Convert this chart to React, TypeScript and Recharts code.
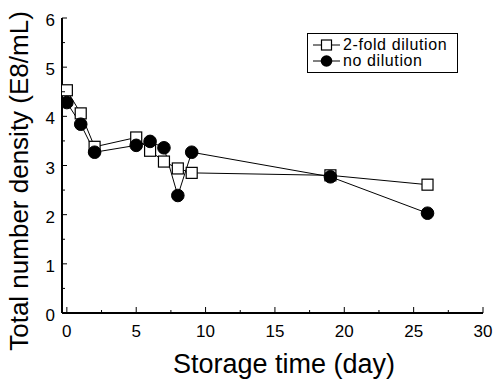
import { LineChart, Line, XAxis, YAxis, Legend, Label } from "recharts";

const days = [0, 1, 2, 5, 6, 7, 8, 9, 19, 26];
const twoFold = [4.53, 4.06, 3.38, 3.57, 3.3, 3.08, 2.94, 2.85, 2.8, 2.61];
const noDilution = [4.28, 3.84, 3.27, 3.41, 3.49, 3.36, 2.39, 3.27, 2.77, 2.03];
const seriesNames = ["2-fold dilution", "no dilution"];

const xTicks = [0, 2.5, 5, 7.5, 10, 12.5, 15, 17.5, 20, 22.5, 25, 27.5, 30];
const yTicks = [0, 0.5, 1, 1.5, 2, 2.5, 3, 3.5, 4, 4.5, 5, 5.5, 6];

const data = days.map((day, i) => ({ day, twoFold: twoFold[i], noDilution: noDilution[i] }));

const FONT = '"Liberation Sans", Arial, sans-serif';
const xDomain: [number, number] = [-0.35, 30];
const yDomain: [number, number] = [0, 6];

const isMajorX = (v: number) => v % 5 === 0;
const isMajorY = (v: number) => Number.isInteger(v);

function BottomTick(props: any) {
  const { x, y, payload } = props;
  const major = isMajorX(payload.value);
  return (
    <g>
      <line x1={x} y1={y} x2={x} y2={y - (major ? 6 : 3)} stroke="#000" />
      {major && (
        <text x={x} y={y + 24} textAnchor="middle" fontSize={17} fontFamily={FONT} fill="#000">
          {payload.value}
        </text>
      )}
    </g>
  );
}

function TopTick(props: any) {
  const { x, y, payload } = props;
  const major = isMajorX(payload.value);
  return <line x1={x} y1={y} x2={x} y2={y + (major ? 6 : 3)} stroke="#000" />;
}

function LeftTick(props: any) {
  const { x, y, payload } = props;
  const major = isMajorY(payload.value);
  return (
    <g>
      <line x1={x} y1={y} x2={x + (major ? 5 : 3)} y2={y} stroke="#000" />
      {major && (
        <text x={x - 7} y={y + 8} textAnchor="end" fontSize={17} fontFamily={FONT} fill="#000">
          {payload.value}
        </text>
      )}
    </g>
  );
}

function RightTick(props: any) {
  const { x, y, payload } = props;
  const major = isMajorY(payload.value);
  return <line x1={x} y1={y} x2={x - (major ? 5 : 3)} y2={y} stroke="#000" />;
}

function SquareDot(props: any) {
  const { cx, cy, index } = props;
  if (cx == null || cy == null) return null;
  return <rect key={`sq-${index}`} x={cx - 5.5} y={cy - 5.5} width={11} height={11} fill="#fff" stroke="#000" strokeWidth={1.2} />;
}

function CircleDot(props: any) {
  const { cx, cy, index } = props;
  if (cx == null || cy == null) return null;
  return <circle key={`ci-${index}`} cx={cx} cy={cy} r={6.3} fill="#000" stroke="#000" />;
}

function LegendBox() {
  return (
    <div
      style={{
        border: "1px solid #000",
        width: 151,
        height: 40,
        boxSizing: "border-box",
        paddingTop: 3,
        paddingLeft: 5,
        fontFamily: FONT,
        fontSize: 16,
        letterSpacing: 0.6,
        color: "#000",
        background: "#fff",
      }}
    >
      {seriesNames.map((name, i) => (
        <div key={name} style={{ display: "flex", alignItems: "center", height: 16, lineHeight: "16px", whiteSpace: "nowrap" }}>
          <svg width={30} height={16} style={{ flex: "none" }}>
            <line x1={0} y1={8} x2={27} y2={8} stroke="#000" />
            {i === 0 ? (
              <rect x={8.5} y={3} width={10} height={10} fill="#fff" stroke="#000" strokeWidth={1.2} />
            ) : (
              <circle cx={13.5} cy={8} r={5.8} fill="#000" />
            )}
          </svg>
          <span>{name}</span>
        </div>
      ))}
    </div>
  );
}

export default function App() {
  return (
    <div style={{ position: "absolute", left: 0, top: 0, width: 496, height: 380, background: "#fff" }}>
      <LineChart width={496} height={380} data={data} margin={{ top: 18, right: 13, bottom: 0, left: 0 }}>
        <XAxis
          dataKey="day"
          type="number"
          domain={xDomain}
          allowDataOverflow
          ticks={xTicks}
          interval={0}
          height={67}
          tickSize={0}
          tickMargin={0}
          tickLine={false}
          axisLine={{ stroke: "#000", strokeWidth: 2 }}
          tick={BottomTick}
        >
          <Label
            content={() => (
              <text x={284} y={373} textAnchor="middle" fontSize={27} fontFamily={FONT} fill="#000">
                Storage time (day)
              </text>
            )}
          />
        </XAxis>
        <XAxis
          xAxisId="top"
          orientation="top"
          type="number"
          domain={xDomain}
          allowDataOverflow
          ticks={xTicks}
          interval={0}
          height={0}
          tickSize={0}
          tickMargin={0}
          tickLine={false}
          axisLine={{ stroke: "#000", strokeWidth: 2 }}
          tick={TopTick}
        />
        <YAxis
          type="number"
          domain={yDomain}
          allowDataOverflow
          ticks={yTicks}
          interval={0}
          width={62}
          tickSize={0}
          tickMargin={0}
          tickLine={false}
          axisLine={{ stroke: "#000", strokeWidth: 2 }}
          tick={LeftTick}
        >
          <Label
            content={() => (
              <text
                x={28}
                y={181}
                textAnchor="middle"
                fontSize={26}
                fontFamily={FONT}
                fill="#000"
                transform="rotate(-90, 28, 181)"
              >
                Total number density (E8/mL)
              </text>
            )}
          />
        </YAxis>
        <YAxis
          yAxisId="right"
          orientation="right"
          type="number"
          domain={yDomain}
          allowDataOverflow
          ticks={yTicks}
          interval={0}
          width={0}
          tickSize={0}
          tickMargin={0}
          tickLine={false}
          axisLine={{ stroke: "#000", strokeWidth: 2 }}
          tick={RightTick}
        />
        <Legend
          layout="vertical"
          align="center"
          verticalAlign="middle"
          content={() => <LegendBox />}
          wrapperStyle={{ position: "absolute", left: 307, top: 33, width: 151, height: 40 }}
        />
        <Line
          type="linear"
          dataKey="twoFold"
          name={seriesNames[0]}
          stroke="#000"
          strokeWidth={1}
          dot={SquareDot}
          activeDot={false}
          isAnimationActive={false}
        />
        <Line
          type="linear"
          dataKey="noDilution"
          name={seriesNames[1]}
          stroke="#000"
          strokeWidth={1}
          dot={CircleDot}
          activeDot={false}
          isAnimationActive={false}
        />
      </LineChart>
    </div>
  );
}
